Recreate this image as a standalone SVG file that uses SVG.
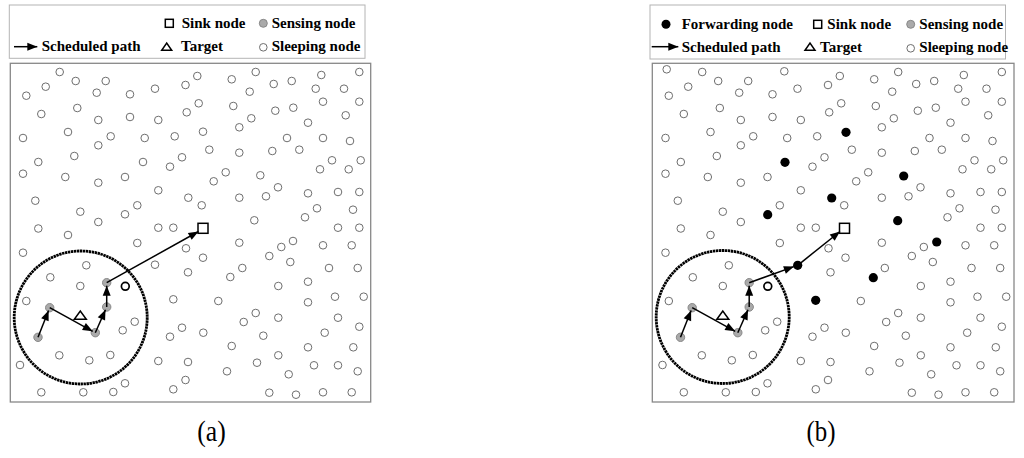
<svg xmlns="http://www.w3.org/2000/svg" xmlns:xlink="http://www.w3.org/1999/xlink" width="1024" height="458" viewBox="0 0 1024 458">
<style>
.sl{fill:#fff;stroke:#6e6e6e;stroke-width:1}
.se{fill:#aaaaaa;stroke:#888;stroke-width:1}
.bold{fill:#fff;stroke:#000;stroke-width:1.7}
.fw{fill:#000}
.box{fill:#fff;stroke:#888;stroke-width:1.3}
.lbox{fill:none;stroke:#b4b4b4;stroke-width:1}
.sym{fill:#fff;stroke:#000;stroke-width:1.5}
.path{stroke:#000;stroke-width:1.5;fill:none}
.range{fill:none;stroke:#000;stroke-width:2.8;stroke-dasharray:2.4 0.6}
.lg{font-family:"Liberation Serif","Times New Roman",serif;font-weight:bold;font-size:15px;fill:#000}
.cap{font-family:"Liberation Serif","Times New Roman",serif;font-size:30px;fill:#000}
</style>
<defs>
<marker id="ah" markerUnits="userSpaceOnUse" markerWidth="11" markerHeight="9" refX="10" refY="4" orient="auto" overflow="visible">
<path d="M0,0 L10,4 L0,8 z" fill="#000"/>
</marker>
<g id="field">
<circle class="sl" cx="59.7" cy="72" r="3.8"/><circle class="sl" cx="75.7" cy="81" r="3.8"/><circle class="sl" cx="105.7" cy="81" r="3.8"/><circle class="sl" cx="45.7" cy="86.7" r="3.8"/><circle class="sl" cx="26.3" cy="95.7" r="3.8"/><circle class="sl" cx="96.7" cy="92.7" r="3.8"/><circle class="sl" cx="130" cy="94.3" r="3.8"/><circle class="sl" cx="155" cy="88.7" r="3.8"/><circle class="sl" cx="185.5" cy="85" r="3.8"/><circle class="sl" cx="77.3" cy="108" r="3.8"/>
<circle class="sl" cx="41.3" cy="114" r="3.8"/><circle class="sl" cx="98.3" cy="120" r="3.8"/><circle class="sl" cx="130" cy="117" r="3.8"/><circle class="sl" cx="158.3" cy="120" r="3.8"/><circle class="sl" cx="186.7" cy="112.3" r="3.8"/><circle class="sl" cx="68" cy="132" r="3.8"/><circle class="sl" cx="110.7" cy="136.3" r="3.8"/><circle class="sl" cx="23" cy="138" r="3.8"/><circle class="sl" cx="144.7" cy="138" r="3.8"/><circle class="sl" cx="174.7" cy="136.3" r="3.8"/>
<circle class="sl" cx="98.3" cy="145.3" r="3.8"/><circle class="sl" cx="74.3" cy="156" r="3.8"/><circle class="sl" cx="38.3" cy="162" r="3.8"/><circle class="sl" cx="182" cy="157.3" r="3.8"/><circle class="sl" cx="170" cy="166.7" r="3.8"/><circle class="sl" cx="23" cy="173.7" r="3.8"/><circle class="sl" cx="65.3" cy="177" r="3.8"/><circle class="sl" cx="125" cy="177" r="3.8"/><circle class="sl" cx="98.3" cy="182.7" r="3.8"/><circle class="sl" cx="158.3" cy="190.3" r="3.8"/>
<circle class="sl" cx="35.3" cy="200.7" r="3.8"/><circle class="sl" cx="137.3" cy="205.3" r="3.8"/><circle class="sl" cx="80.3" cy="211.7" r="3.8"/><circle class="sl" cx="98.3" cy="222" r="3.8"/><circle class="sl" cx="38.3" cy="228.5" r="3.8"/><circle class="sl" cx="158.3" cy="227.7" r="3.8"/><circle class="sl" cx="173.3" cy="227.7" r="3.8"/><circle class="sl" cx="68" cy="235" r="3.8"/>
<circle class="sl" cx="197.3" cy="76" r="3.8"/><circle class="sl" cx="231.7" cy="79.3" r="3.8"/><circle class="sl" cx="255.7" cy="72" r="3.8"/><circle class="sl" cx="273.7" cy="84" r="3.8"/><circle class="sl" cx="291.7" cy="81" r="3.8"/><circle class="sl" cx="321.3" cy="75" r="3.8"/><circle class="sl" cx="359.3" cy="72" r="3.8"/><circle class="sl" cx="249.7" cy="91.7" r="3.8"/><circle class="sl" cx="315.7" cy="88.7" r="3.8"/><circle class="sl" cx="344" cy="88.7" r="3.8"/>
<circle class="sl" cx="198.7" cy="103.3" r="3.8"/><circle class="sl" cx="233.3" cy="106" r="3.8"/><circle class="sl" cx="275.3" cy="110.7" r="3.8"/><circle class="sl" cx="293.3" cy="107.7" r="3.8"/><circle class="sl" cx="323" cy="101.7" r="3.8"/><circle class="sl" cx="359.3" cy="101.7" r="3.8"/><circle class="sl" cx="251.3" cy="118.3" r="3.8"/><circle class="sl" cx="239.3" cy="127.3" r="3.8"/><circle class="sl" cx="308" cy="122.7" r="3.8"/><circle class="sl" cx="345.7" cy="115.3" r="3.8"/>
<circle class="sl" cx="287" cy="138" r="3.8"/><circle class="sl" cx="323" cy="138" r="3.8"/><circle class="sl" cx="350" cy="141" r="3.8"/><circle class="sl" cx="209.3" cy="149.7" r="3.8"/><circle class="sl" cx="239.3" cy="152.7" r="3.8"/><circle class="sl" cx="272.3" cy="151" r="3.8"/><circle class="sl" cx="299.3" cy="149.7" r="3.8"/><circle class="sl" cx="332" cy="160.3" r="3.8"/><circle class="sl" cx="320" cy="169.3" r="3.8"/><circle class="sl" cx="348.7" cy="169.3" r="3.8"/>
<circle class="sl" cx="360.7" cy="160.3" r="3.8"/><circle class="sl" cx="225.7" cy="172.3" r="3.8"/><circle class="sl" cx="213.7" cy="181.3" r="3.8"/><circle class="sl" cx="278" cy="187.3" r="3.8"/><circle class="sl" cx="266" cy="196.3" r="3.8"/><circle class="sl" cx="239.3" cy="197.7" r="3.8"/><circle class="sl" cx="201.7" cy="205.3" r="3.8"/><circle class="sl" cx="308" cy="193.3" r="3.8"/><circle class="sl" cx="338" cy="192" r="3.8"/><circle class="sl" cx="359.3" cy="192" r="3.8"/>
<circle class="sl" cx="317" cy="208.3" r="3.8"/><circle class="sl" cx="305" cy="217.3" r="3.8"/><circle class="sl" cx="353" cy="209.7" r="3.8"/><circle class="sl" cx="338" cy="227.7" r="3.8"/><circle class="sl" cx="359.3" cy="227.7" r="3.8"/>
<circle class="sl" cx="23" cy="252.7" r="3.8"/><circle class="sl" cx="137.3" cy="243" r="3.8"/><circle class="sl" cx="186" cy="248.3" r="3.8"/><circle class="sl" cx="86.3" cy="265.3" r="3.8"/><circle class="sl" cx="50.3" cy="277.3" r="3.8"/><circle class="sl" cx="188" cy="272.3" r="3.8"/><circle class="sl" cx="80.3" cy="286" r="3.8"/><circle class="sl" cx="26.3" cy="301" r="3.8"/><circle class="sl" cx="134.7" cy="321.7" r="3.8"/><circle class="sl" cx="122.7" cy="330.3" r="3.8"/>
<circle class="sl" cx="182" cy="327.7" r="3.8"/><circle class="sl" cx="170" cy="336.7" r="3.8"/><circle class="sl" cx="59.3" cy="355.3" r="3.8"/><circle class="sl" cx="89.3" cy="360.3" r="3.8"/><circle class="sl" cx="110.3" cy="355" r="3.8"/><circle class="sl" cx="20" cy="365" r="3.8"/><circle class="sl" cx="158.3" cy="361" r="3.8"/><circle class="sl" cx="188" cy="362" r="3.8"/><circle class="sl" cx="125" cy="383.3" r="3.8"/><circle class="sl" cx="113.3" cy="392" r="3.8"/>
<circle class="sl" cx="83.3" cy="392.3" r="3.8"/><circle class="sl" cx="41.3" cy="392.3" r="3.8"/><circle class="sl" cx="173.3" cy="389.3" r="3.8"/><circle class="sl" cx="185.5" cy="380" r="3.8"/>
<circle class="sl" cx="203" cy="257.7" r="3.8"/><circle class="sl" cx="239.3" cy="242.7" r="3.8"/><circle class="sl" cx="281.3" cy="247" r="3.8"/><circle class="sl" cx="269.3" cy="256" r="3.8"/><circle class="sl" cx="290.3" cy="262" r="3.8"/><circle class="sl" cx="323" cy="245.3" r="3.8"/><circle class="sl" cx="351.7" cy="245.3" r="3.8"/><circle class="sl" cx="242.3" cy="268" r="3.8"/><circle class="sl" cx="329" cy="268" r="3.8"/><circle class="sl" cx="357.7" cy="268" r="3.8"/>
<circle class="sl" cx="278.3" cy="286" r="3.8"/><circle class="sl" cx="308" cy="281.7" r="3.8"/><circle class="sl" cx="218.3" cy="301" r="3.8"/><circle class="sl" cx="308" cy="302.3" r="3.8"/><circle class="sl" cx="335" cy="296.7" r="3.8"/><circle class="sl" cx="363.7" cy="296.7" r="3.8"/><circle class="sl" cx="255.7" cy="313" r="3.8"/><circle class="sl" cx="243.7" cy="322" r="3.8"/><circle class="sl" cx="278.3" cy="317.7" r="3.8"/><circle class="sl" cx="338" cy="317.7" r="3.8"/>
<circle class="sl" cx="359.3" cy="326.7" r="3.8"/><circle class="sl" cx="203.3" cy="332.7" r="3.8"/><circle class="sl" cx="263.3" cy="335.7" r="3.8"/><circle class="sl" cx="324.7" cy="332.7" r="3.8"/><circle class="sl" cx="231.7" cy="346" r="3.8"/><circle class="sl" cx="308" cy="347.3" r="3.8"/><circle class="sl" cx="353.3" cy="347.3" r="3.8"/><circle class="sl" cx="278.3" cy="355.3" r="3.8"/><circle class="sl" cx="257" cy="362.7" r="3.8"/><circle class="sl" cx="227" cy="371.3" r="3.8"/>
<circle class="sl" cx="314" cy="365.3" r="3.8"/><circle class="sl" cx="338" cy="365.3" r="3.8"/><circle class="sl" cx="357.7" cy="371.3" r="3.8"/><circle class="sl" cx="288.7" cy="374.3" r="3.8"/><circle class="sl" cx="269.3" cy="392.7" r="3.8"/><circle class="sl" cx="296" cy="394.7" r="3.8"/><circle class="sl" cx="323" cy="392.3" r="3.8"/><circle class="sl" cx="351.7" cy="392.3" r="3.8"/>
<circle class="bold" cx="125.3" cy="286.3" r="3.9"/>
</g>
</defs>

<g id="legend-a">
<rect class="lbox" x="9.3" y="5" width="355.7" height="53.3"/>
<rect class="sym" x="165.3" y="19.3" width="8" height="8"/>
<text class="lg" x="181.7" y="27.6">Sink node</text>
<circle class="se" cx="263.3" cy="23.3" r="4"/>
<text class="lg" x="271.7" y="27.6">Sensing node</text>
<line class="path" x1="14" y1="46.7" x2="37.3" y2="46.7" marker-end="url(#ah)"/>
<text class="lg" x="41.7" y="51">Scheduled path</text>
<polygon class="sym" points="161.7,50.2 171.7,50.2 166.7,43"/>
<text class="lg" x="181" y="51">Target</text>
<circle class="sl" cx="263.3" cy="47.3" r="3.8"/>
<text class="lg" x="271.7" y="51">Sleeping node</text>
</g>

<g id="legend-b">
<rect class="lbox" x="650" y="5" width="355.5" height="54"/>
<circle class="fw" cx="666" cy="24.3" r="4.5"/>
<text class="lg" x="681.7" y="28.6">Forwarding node</text>
<rect class="sym" x="813.7" y="20.3" width="8" height="8"/>
<text class="lg" x="827.3" y="28.6">Sink node</text>
<circle class="se" cx="910.7" cy="24.3" r="4"/>
<text class="lg" x="919.3" y="28.6">Sensing node</text>
<line class="path" x1="651.7" y1="46.7" x2="678.3" y2="46.7" marker-end="url(#ah)"/>
<text class="lg" x="681.7" y="51.5">Scheduled path</text>
<polygon class="sym" points="805,50.2 815,50.2 810,43"/>
<text class="lg" x="820" y="51.5">Target</text>
<circle class="sl" cx="910.7" cy="48.3" r="3.8"/>
<text class="lg" x="919.3" y="51.5">Sleeping node</text>
</g>

<g id="panel-a">
<rect class="box" x="10.3" y="63.3" width="360.4" height="338.7"/>
<use xlink:href="#field" href="#field"/>
<circle class="sl" cx="143" cy="162" r="3.8"/><circle class="sl" cx="188.3" cy="197.7" r="3.8"/><circle class="sl" cx="125" cy="214.3" r="3.8"/><circle class="sl" cx="203" cy="131.7" r="3.8"/><circle class="sl" cx="260.3" cy="175.3" r="3.8"/><circle class="sl" cx="254.3" cy="220.3" r="3.8"/><circle class="sl" cx="293" cy="241" r="3.8"/><circle class="sl" cx="230.3" cy="277" r="3.8"/><circle class="sl" cx="155" cy="264.7" r="3.8"/><circle class="sl" cx="173.3" cy="299.3" r="3.8"/>
<circle class="range" cx="80.7" cy="317.5" r="66.5"/>
<g id="a-sensing-1"><circle class="se" cx="38" cy="337.3" r="4.2"/></g>
<g id="a-sensing-2"><circle class="se" cx="49.7" cy="307.7" r="4.2"/></g>
<g id="a-sensing-3"><circle class="se" cx="95.3" cy="332.7" r="4.2"/></g>
<g id="a-sensing-4"><circle class="se" cx="106.7" cy="307" r="4.2"/></g>
<g id="a-sensing-5"><circle class="se" cx="106.7" cy="282.7" r="4.2"/></g>
<g id="a-target"><polygon class="sym" points="74.3,319.3 86.3,319.3 80.3,311"/></g>
<g id="a-sink"><rect class="sym" x="198" y="223.3" width="10" height="10"/></g>
<g id="a-connectors">
<line class="path" x1="38" y1="337.3" x2="48.6" y2="310.5" marker-end="url(#ah)"/>
<line class="path" x1="49.7" y1="307.7" x2="92.7" y2="331.3" marker-end="url(#ah)"/>
<line class="path" x1="95.3" y1="332.7" x2="105.5" y2="309.8" marker-end="url(#ah)"/>
<line class="path" x1="106.7" y1="307" x2="106.7" y2="285.7" marker-end="url(#ah)"/>
<line class="path" x1="106.7" y1="282.7" x2="198.5" y2="231.5" marker-end="url(#ah)"/>
</g>
</g>

<g id="panel-b" transform="translate(642.5,0)">
<rect class="box" x="9.8" y="63.3" width="361.7" height="338.7"/>
<use xlink:href="#field" href="#field"/>
<circle class="sl" cx="24.2" cy="69.3" r="3.8"/><circle class="sl" cx="141.8" cy="71.3" r="3.8"/>
<g id="b-forwarding">
<circle class="fw" cx="142.5" cy="162.3" r="4.6"/><circle class="fw" cx="189.2" cy="198" r="4.6"/><circle class="fw" cx="125.2" cy="214.7" r="4.6"/><circle class="fw" cx="203.5" cy="132.3" r="4.6"/><circle class="fw" cx="261.2" cy="176" r="4.6"/><circle class="fw" cx="255.2" cy="220.7" r="4.6"/><circle class="fw" cx="294.2" cy="242" r="4.6"/><circle class="fw" cx="230.8" cy="277.7" r="4.6"/><circle class="fw" cx="173.2" cy="300.3" r="4.6"/>
</g>
<g id="b-forward-hop"><circle class="fw" cx="155.2" cy="265.3" r="4.6"/></g>
<circle class="range" cx="80.2" cy="317" r="66.5"/>
<g id="b-sensing-1"><circle class="se" cx="38" cy="337.3" r="4.2"/></g>
<g id="b-sensing-2"><circle class="se" cx="49.7" cy="307.7" r="4.2"/></g>
<g id="b-sensing-3"><circle class="se" cx="95.3" cy="332.7" r="4.2"/></g>
<g id="b-sensing-4"><circle class="se" cx="106.7" cy="307" r="4.2"/></g>
<g id="b-sensing-5"><circle class="se" cx="106.7" cy="282.7" r="4.2"/></g>
<g id="b-target"><polygon class="sym" points="74.3,319.3 86.3,319.3 80.3,311"/></g>
<g id="b-sink"><rect class="sym" x="197" y="223.3" width="10" height="10"/></g>
<g id="b-connectors">
<line class="path" x1="38" y1="337.3" x2="48.6" y2="310.5" marker-end="url(#ah)"/>
<line class="path" x1="49.7" y1="307.7" x2="92.7" y2="331.3" marker-end="url(#ah)"/>
<line class="path" x1="95.3" y1="332.7" x2="105.5" y2="309.8" marker-end="url(#ah)"/>
<line class="path" x1="106.7" y1="307" x2="106.7" y2="285.7" marker-end="url(#ah)"/>
<line class="path" x1="106.7" y1="282.7" x2="151.4" y2="266.6" marker-end="url(#ah)"/>
<line class="path" x1="155.2" y1="265.3" x2="197.5" y2="231.5" marker-end="url(#ah)"/>
</g>
</g>

<text class="cap" x="211.5" y="441.4" text-anchor="middle" textLength="28.5" lengthAdjust="spacingAndGlyphs">(a)</text>
<text class="cap" x="821" y="441.4" text-anchor="middle" textLength="29" lengthAdjust="spacingAndGlyphs">(b)</text>
</svg>
